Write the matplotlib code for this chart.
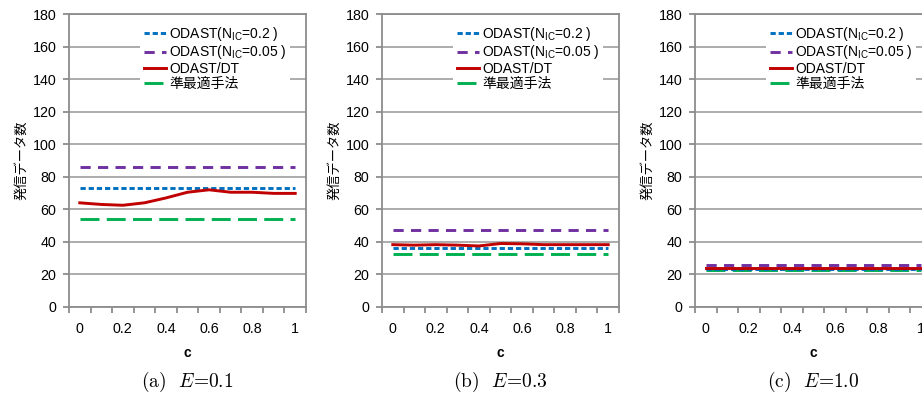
import matplotlib
matplotlib.use("Agg")
import matplotlib.pyplot as plt
import numpy as np

plt.rcParams['font.family'] = ['Liberation Sans', 'Noto Sans CJK JP', 'DejaVu Sans']
plt.rcParams['mathtext.fontset'] = 'custom'
plt.rcParams['mathtext.rm'] = 'Liberation Sans'
plt.rcParams['mathtext.it'] = 'Liberation Sans:italic'
plt.rcParams['mathtext.bf'] = 'Liberation Sans:bold'

c_values = [0, 0.1, 0.2, 0.3, 0.4, 0.5, 0.6, 0.7, 0.8, 0.9, 1.0]
x_tick_labels = ["0", "0.2", "0.4", "0.6", "0.8", "1"]
series_labels = ["ODAST(N$_{\\mathregular{IC}}$=0.2 )", "ODAST(N$_{\\mathregular{IC}}$=0.05 )",
                 "ODAST/DT", "準最適手法"]
captions = ["(a)", "(b)", "(c)"]
e_values = ["0.1", "0.3", "1.0"]

# panel (a) E=0.1
a_nic02 = [73] * 11
a_nic005 = [86] * 11
a_dt = [64, 63, 62.5, 64, 67, 70.5, 72, 70.5, 70.5, 69.8, 69.8]
a_sub = [54] * 11
# panel (b) E=0.3
b_nic02 = [36] * 11
b_nic005 = [47.6] * 11
b_dt = [38.3, 38, 38.3, 38, 37.5, 39, 38.8, 38.3, 38.3, 38.3, 38.3]
b_sub = [32.8] * 11
# panel (c) E=1.0
c_nic02 = [23.5] * 11
c_nic005 = [25.7] * 11
c_dt = [24, 24, 24, 24, 24, 24, 24, 24, 24, 24, 24]
c_sub = [22.9] * 11

panels = [
    (a_nic02, a_nic005, a_dt, a_sub),
    (b_nic02, b_nic005, b_dt, b_sub),
    (c_nic02, c_nic005, c_dt, c_sub),
]

colors = ["#0070C0", "#7030A0", "#C00000", "#00B050"]
styles = [(0, (1.8, 1.0)), (0, (3.5, 2.5)), '-', (0, (6.5, 2.5))]
zorders = [3, 3, 4, 2]

W, H = 922, 395
fig = plt.figure(figsize=(W / 100, H / 100), dpi=100)
grey = "#8c8c8c"
lefts = [69, 382, 695]
ax_w = 237
top_px, bot_px = 14, 307
ax_h = bot_px - top_px

for i, (left, data) in enumerate(zip(lefts, panels)):
    ax = fig.add_axes([left / W, 1 - bot_px / H, ax_w / W, ax_h / H])
    x = np.arange(len(c_values))
    for k in range(4):
        ax.plot(x, data[k], color=colors[k], linestyle=styles[k], lw=2.1,
                label=series_labels[k], zorder=zorders[k], dash_capstyle='butt')
    ax.set_xlim(-0.5, len(c_values) - 0.5)
    ax.set_ylim(0, 180)
    ax.set_yticks(np.arange(0, 181, 20))
    ax.yaxis.grid(True, color="#a6a6a6", lw=1.3)
    ax.set_axisbelow(True)
    ax.set_xticks(x[::2])
    ax.set_xticklabels(x_tick_labels)
    ax.set_xticks(np.arange(-0.5, len(c_values)), minor=True)
    ax.tick_params(axis='x', which='major', length=0, pad=11, labelsize=10.3)
    ax.tick_params(axis='x', which='minor', length=4, width=1.3, color=grey, direction='out')
    ax.tick_params(axis='y', length=4, width=1.3, color=grey, labelsize=10.3, pad=5)
    for s in ax.spines.values():
        s.set_color(grey)
        s.set_linewidth(1.3)
    ax.set_xlabel("c", fontsize=10, fontweight='bold')
    ax.xaxis.set_label_coords(0.5, -(353 - bot_px) / ax_h)
    ax.xaxis.label.set_va('center')
    ax.set_ylabel("発信データ数", fontsize=9.5)
    ax.yaxis.set_label_coords(-0.172, 0.5)
    handles, labels = ax.get_legend_handles_labels()
    leg = ax.legend(handles, labels, loc='upper left', bbox_to_anchor=(0.3, 0.975),
                    frameon=True, facecolor='white', edgecolor='none', framealpha=1,
                    fontsize=10, handlelength=1.6, handletextpad=0.25,
                    labelspacing=0.05, borderpad=0.25, borderaxespad=0)
    leg.get_frame().set_boxstyle('square', pad=0)
    cx = (left + ax_w / 2) / W
    fig.text(cx, 1 - 382 / H, captions[i] + r"  $E$=" + e_values[i],
             ha='center', va='center', fontsize=14, family='cmr10', math_fontfamily='cm')

fig.savefig("out.png", dpi=100)
